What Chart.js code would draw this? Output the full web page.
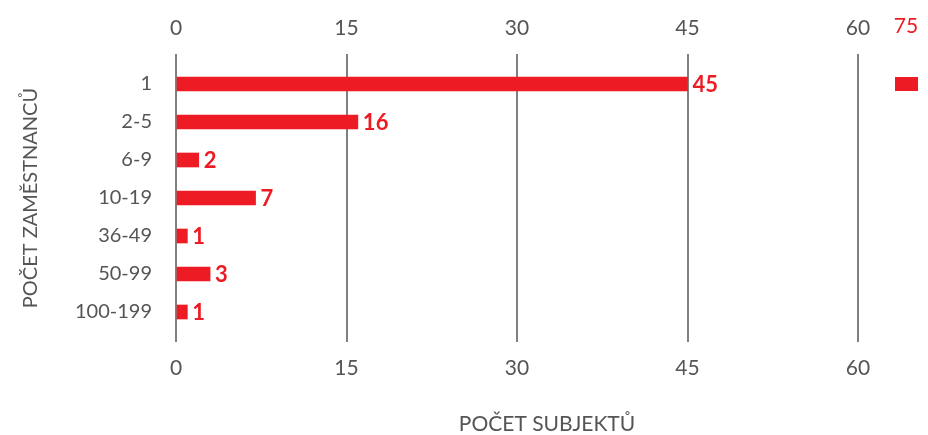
<!DOCTYPE html>
<html>
<head>
<meta charset="utf-8">
<script src="https://cdn.jsdelivr.net/npm/chart.js@4/dist/chart.umd.min.js"></script>
<style>
    html, body { margin: 0; padding: 0; background: #fff; }
    #wrap { width: 928px; height: 435px; }
</style>
</head>
<body>
<div id="wrap"><canvas id="chart" width="928" height="435"></canvas></div>
<script>
const categories = ["1", "2-5", "6-9", "10-19", "36-49", "50-99", "100-199"];
const counts = [45, 16, 2, 7, 1, 3, 1];
const xTicks = [0, 15, 30, 45, 60];
const strayTick = "75";
const xTitle = "POČET SUBJEKTŮ";
const yTitle = "POČET ZAMĚSTNANCŮ";

const RED = "#ED1C24";
const GREY = "#555555";
const LINE = "#808080";
const FONT = "Lato, 'Open Sans', sans-serif";

// value labels at bar ends, the odd "75" corner piece and bottom title
const extras = {
    id: "extras",
    afterDatasetsDraw(chart) {
        const ctx = chart.ctx;
        const meta = chart.getDatasetMeta(0);
        ctx.save();
        ctx.fillStyle = RED;
        ctx.font = "bold 22px " + FONT;
        ctx.textBaseline = "middle";
        ctx.textAlign = "left";
        meta.data.forEach((bar, i) => {
            ctx.fillText(String(counts[i]), bar.x + 5, bar.y + 1);
        });

        const top = chart.scales.x;
        const y0 = chart.scales.y.getPixelForValue(0);
        ctx.font = "21px " + FONT;
        ctx.textAlign = "center";
        ctx.fillText(strayTick, 906, top.top + 26);
        ctx.fillRect(895, y0 - 7, 23, 14);

        ctx.fillStyle = GREY;
        ctx.font = "21px " + FONT;
        ctx.fillText(xTitle, 547, 424);
        ctx.restore();
    }
};

new Chart(document.getElementById("chart").getContext("2d"), {
    type: "bar",
    data: {
        labels: categories,
        datasets: [{
            data: counts,
            backgroundColor: RED,
            borderWidth: 0,
            barThickness: 14,
            xAxisID: "x"
        }]
    },
    options: {
        indexAxis: "y",
        responsive: false,
        animation: false,
        layout: { padding: { left: 0, right: 70, top: 0, bottom: 0 } },
        plugins: {
            legend: { display: false },
            tooltip: { enabled: false }
        },
        scales: {
            x: {
                position: "top",
                min: 0,
                max: 60,
                afterBuildTicks: (s) => { s.ticks = xTicks.map(v => ({ value: v })); },
                afterFit: (s) => { s.height = 65; },
                border: { display: false },
                grid: { color: LINE, lineWidth: 2, tickLength: 11, tickColor: LINE },
                ticks: { color: GREY, font: { family: FONT, size: 21 }, padding: 13 }
            },
            x2: {
                position: "bottom",
                min: 0,
                max: 60,
                afterBuildTicks: (s) => { s.ticks = xTicks.map(v => ({ value: v })); },
                afterFit: (s) => { s.height = 104; },
                border: { display: false },
                grid: { display: true, drawOnChartArea: false, color: LINE, lineWidth: 2, tickLength: 11, tickColor: LINE },
                ticks: { color: GREY, font: { family: FONT, size: 21 }, padding: 14 }
            },
            y: {
                afterFit: (s) => { s.width = 176; },
                border: { display: false },
                grid: { display: false },
                ticks: { color: GREY, font: { family: FONT, size: 20 }, padding: 16 },
                title: {
                    display: true,
                    text: yTitle,
                    color: GREY,
                    font: { family: FONT, size: 20 },
                    padding: { top: 19, bottom: 0 }
                }
            }
        }
    },
    plugins: [extras]
});
</script>
</body>
</html>
